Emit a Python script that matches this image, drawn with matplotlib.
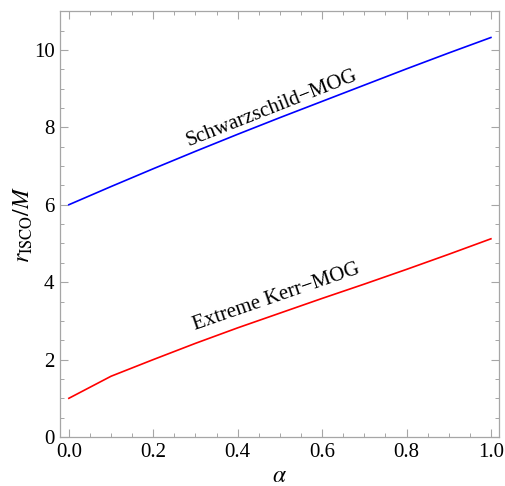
import matplotlib
matplotlib.use("Agg")
import matplotlib.pyplot as plt
from matplotlib.ticker import MultipleLocator

plt.rcParams['font.family'] = ['Liberation Serif', 'DejaVu Serif']
plt.rcParams['mathtext.fontset'] = 'stix'

alpha = [0.0, 0.1, 0.2, 0.3, 0.4, 0.5, 0.6, 0.7, 0.8, 0.9, 1.0]
r_schw = [6.0, 6.47, 6.93, 7.38, 7.82, 8.25, 8.67, 9.09, 9.51, 9.92, 10.32]
r_kerr = [1.0, 1.57, 2.0, 2.42, 2.82, 3.2, 3.58, 3.95, 4.33, 4.72, 5.12]
label_schw = "Schwarzschild\u2212MOG"
label_kerr = "Extreme Kerr\u2212MOG"

fig = plt.figure(figsize=(5.05, 4.86), dpi=100)
ax = fig.add_axes([0.1188, 0.1008, 0.8692, 0.8762])

ax.plot(alpha, r_schw, color='#0000ff', lw=1.2)
ax.plot(alpha, r_kerr, color='#ff0000', lw=1.2)

ax.set_xlim(-0.021, 1.019)
ax.set_ylim(0, 11)
ax.xaxis.set_major_locator(MultipleLocator(0.2))
ax.xaxis.set_minor_locator(MultipleLocator(0.05))
ax.yaxis.set_major_locator(MultipleLocator(2))
ax.yaxis.set_minor_locator(MultipleLocator(0.5))
ax.xaxis.set_major_formatter(matplotlib.ticker.FormatStrFormatter('%.1f'))

grey = '#a6a6a6'
for s in ax.spines.values():
    s.set_color(grey)
    s.set_linewidth(0.9)
ax.tick_params(which='both', direction='in', top=True, right=True, color=grey,
               labelsize=15, labelcolor='black')
ax.tick_params(which='major', length=5.5, width=0.8)
ax.tick_params(which='minor', length=3, width=0.7)
ax.tick_params(axis='y', pad=4)
ax.tick_params(axis='x', pad=4)

ax.set_xlabel(r'$\alpha$', fontsize=17, labelpad=3)
ax.set_ylabel(r'$r_{\rm ISCO}/M$', fontsize=17, labelpad=-1)

ax.text(0.482, 8.5, label_schw, fontsize=15, rotation=21.5,
        ha='center', va='center', rotation_mode='anchor')
ax.text(0.493, 3.62, label_kerr, fontsize=15, rotation=19,
        ha='center', va='center', rotation_mode='anchor')

fig.savefig('out.png', dpi=100)
